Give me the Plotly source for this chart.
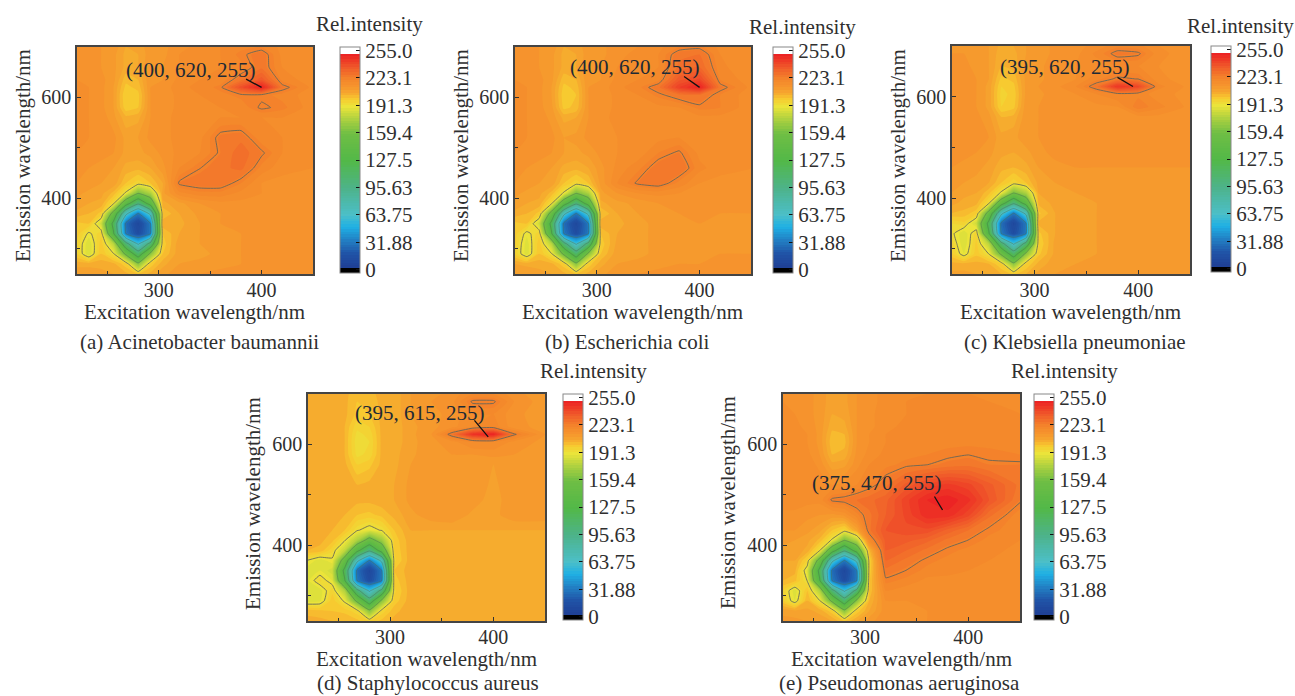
import plotly.graph_objects as go

FONT = "Liberation Serif"
TEXT = "#2f2f2f"
W, H = 1295, 696

excitation = [220, 232, 244, 256, 268, 280, 292, 304, 320, 340, 360, 380, 400, 420, 450]
emission = [250, 270, 290, 310, 330, 350, 370, 390, 410, 430, 460, 490, 520, 560, 580, 605, 620, 635, 660, 685, 700]

intensity_a = [
    [208,208,207,206,204,200,204,208,211,212,213,213,213,213,213],
    [205,205,205,204,198,165,198,205,209,210,211,212,213,213,213],
    [197,185,200,192,155,110,165,200,208,208,210,212,213,213,213],
    [197,185,199,178,105, 60,105,198,208,209,211,212,213,213,213],
    [199,190,196,130, 32, 14, 32,200,206,209,211,212,213,213,213],
    [199,200,183,120, 28, 10, 32,205,205,209,212,213,213,213,213],
    [205,203,199,150, 70, 32, 70,200,206,210,212,213,214,213,213],
    [208,206,205,193,140,100,140,205,208,212,214,214,214,214,214],
    [210,208,207,202,190,160,175,208,217,220,220,217,215,214,214],
    [212,211,209,208,200,195,200,206,224,226,226,221,215,214,214],
    [213,212,211,209,205,204,206,211,218,223,226,228,220,216,215],
    [215,214,213,212,208,208,210,213,216,218,224,229,224,218,216],
    [216,215,214,213,208,209,213,214,216,217,225,226,219,218,216],
    [216,215,214,210,204,205,212,214,216,217,218,218,218,218,216],
    [216,215,213,209,198,200,212,213,216,217,218,219,224,222,216],
    [216,215,213,209,197,199,212,213,216,218,220,222,222,220,216],
    [216,215,213,209,199,201,212,213,217,219,222,238,250,225,217],
    [215,215,213,210,201,203,212,212,216,218,219,226,235,220,216],
    [214,214,212,210,205,206,212,212,215,217,218,220,226,218,215],
    [213,213,212,210,205,206,211,211,215,216,218,222,226,217,215],
    [213,213,212,211,206,207,211,211,214,216,218,220,221,217,215],
]

intensity_b = [
    [209,209,207,206,204,200,204,208,211,212,213,213,213,213,213],
    [206,205,205,204,198,165,198,205,209,210,211,212,212,213,213],
    [197,186,200,192,155,110,165,200,208,208,210,211,212,212,212],
    [198,186,199,178,105, 60,105,198,207,208,210,211,212,212,212],
    [199,189,196,130, 32, 14, 32,200,206,208,210,211,212,212,212],
    [199,200,183,120, 28, 10, 32,205,205,208,210,211,212,212,212],
    [205,203,199,150, 70, 32, 70,200,206,209,211,212,213,212,212],
    [208,206,205,193,140,100,140,205,208,210,212,213,213,213,213],
    [210,208,207,202,190,160,175,208,212,215,216,215,214,214,214],
    [212,211,209,208,200,195,200,210,218,224,226,220,215,214,214],
    [213,212,211,209,205,204,206,211,216,220,226,227,219,216,215],
    [215,214,213,212,209,208,210,213,215,216,221,224,217,216,215],
    [216,215,214,213,209,210,213,214,215,216,217,218,217,216,216],
    [216,215,214,211,205,206,212,214,216,216,217,217,217,217,216],
    [216,215,213,210,199,201,212,213,216,216,217,218,222,221,216],
    [216,215,213,209,198,200,212,213,216,218,222,226,227,221,216],
    [216,215,213,209,199,201,212,213,217,220,226,242,250,225,217],
    [215,215,213,210,201,203,212,212,216,218,220,235,240,221,216],
    [214,214,212,210,205,206,212,212,215,216,218,228,230,219,215],
    [213,213,212,210,205,206,211,211,214,216,218,226,227,218,215],
    [213,213,212,211,206,207,211,211,214,215,217,221,222,217,215],
]

intensity_c = [
    [207,207,206,205,203,199,203,207,209,210,211,211,211,211,211],
    [204,204,204,203,197,165,197,204,208,209,210,210,211,211,211],
    [198,188,199,191,155,110,165,199,207,208,209,210,210,210,210],
    [196,185,198,178,105, 60,105,197,207,208,209,210,210,210,210],
    [193,185,196,130, 32, 14, 32,199,206,208,209,210,210,210,210],
    [194,196,183,120, 28, 10, 32,204,206,208,209,210,210,210,210],
    [203,202,198,150, 70, 32, 70,199,206,208,209,210,210,210,210],
    [207,205,204,193,140,100,140,204,207,208,209,210,210,210,210],
    [209,207,206,201,190,160,175,206,208,209,210,210,210,210,210],
    [210,209,208,206,200,195,200,207,209,210,211,211,211,211,211],
    [212,211,210,208,204,203,205,209,211,212,212,212,212,212,212],
    [213,213,212,210,207,206,208,211,213,213,213,213,213,213,213],
    [214,214,213,212,207,208,211,212,213,214,214,214,214,214,214],
    [214,214,213,210,203,204,211,212,214,214,214,214,214,214,214],
    [214,214,212,208,197,199,211,212,214,214,214,215,223,219,214],
    [214,214,212,208,196,198,210,211,214,215,218,221,220,216,214],
    [214,214,212,208,197,199,210,212,214,218,226,245,240,219,214],
    [214,213,212,209,199,201,210,211,214,215,220,224,223,216,213],
    [213,213,211,209,203,204,210,211,214,215,216,218,218,215,213],
    [212,212,210,209,204,205,209,210,213,214,219,225,224,216,213],
    [212,212,210,209,205,206,209,210,213,214,216,220,219,215,213],
]

intensity_d = [
    [204,204,203,203,201,197,201,204,206,206,206,206,206,206,206],
    [202,201,200,199,195,165,195,202,205,205,205,205,205,205,205],
    [186,187,199,190,155,110,165,198,205,205,205,205,205,205,205],
    [185,186,196,176,105, 60,105,196,205,205,205,205,205,205,205],
    [187,195,188,130, 32, 14, 32,198,205,205,205,205,205,205,205],
    [186,188,183,120, 28, 10, 32,200,205,205,205,205,205,205,205],
    [191,186,190,148, 70, 32, 70,196,205,205,205,205,205,205,205],
    [203,202,195,180,135,100,140,197,205,205,205,205,205,205,205],
    [204,204,201,192,175,150,170,198,205,205,205,205,205,205,205],
    [205,205,203,200,192,188,192,200,206,206,206,206,206,206,206],
    [205,205,204,203,200,199,201,204,208,211,212,208,208,211,211],
    [206,206,205,205,204,204,205,206,210,212,212,211,207,212,212],
    [206,206,205,205,203,204,205,206,210,212,212,212,208,212,212],
    [206,206,205,204,197,199,204,205,209,212,212,212,209,212,212],
    [206,206,205,203,193,195,204,205,208,212,212,212,213,212,211],
    [206,206,204,203,192,194,204,204,208,211,214,218,218,214,211],
    [206,206,204,203,193,195,204,204,208,212,226,246,250,224,212],
    [206,206,204,203,195,197,204,204,208,211,214,218,220,213,211],
    [206,206,204,204,199,200,204,204,209,211,213,218,218,213,210],
    [205,205,204,204,200,201,204,204,209,212,214,224,224,215,210],
    [205,205,204,204,201,202,204,204,209,211,213,218,218,213,210],
]

intensity_e = [
    [210,210,209,208,206,200,206,211,214,215,215,216,216,216,216],
    [208,207,207,205,198,165,198,206,214,215,215,216,216,216,216],
    [198,188,203,192,155,110,165,203,215,215,216,216,216,216,216],
    [197,186,200,176,105, 60,105,200,218,216,216,216,216,216,216],
    [203,201,191,130, 32, 14, 32,199,222,220,217,217,216,216,216],
    [204,204,187,120, 28, 10, 32,197,226,223,220,219,218,217,216],
    [206,206,196,150, 70, 32, 70,196,230,226,222,220,219,218,217],
    [208,208,205,192,140,100,140,202,233,230,226,222,220,219,217],
    [210,209,207,202,190,160,178,218,234,234,231,226,223,220,218],
    [212,212,210,207,200,195,207,226,236,238,238,232,227,222,219],
    [214,214,213,212,211,213,220,226,233,240,247,247,240,228,219],
    [217,217,216,216,224,225,227,229,232,241,248,250,246,236,224],
    [218,218,218,217,215,216,218,221,226,234,240,243,240,234,226],
    [218,218,217,214,207,208,214,218,220,222,223,225,226,224,224],
    [218,218,216,212,203,204,213,216,219,220,221,222,223,222,221],
    [218,217,215,211,201,202,212,215,218,219,220,220,220,220,219],
    [217,217,215,211,202,203,212,215,218,219,220,220,220,219,218],
    [216,216,214,211,204,205,212,214,217,219,220,220,220,219,218],
    [216,215,213,211,206,207,212,214,217,218,220,220,220,219,218],
    [215,215,213,211,207,208,212,214,216,218,219,219,219,218,218],
    [215,215,213,211,207,208,212,214,216,217,218,218,218,218,217],
]

grids = [intensity_a, intensity_b, intensity_c, intensity_d, intensity_e]
captions = ["(a) Acinetobacter baumannii", "(b) Escherichia coli", "(c) Klebsiella pneumoniae",
            "(d) Staphylococcus aureus", "(e) Pseudomonas aeruginosa"]
peak_x = [400, 400, 395, 395, 375]
peak_y = [620, 620, 620, 615, 470]
peak_z = [255, 255, 255, 255, 255]
label_x = [331, 337, 329, 329, 312]
label_y = [655, 661, 659, 663, 523]
leader_dx = [-17, -17, -17, -15, -9]
leader_dy = [-9, -12, -10, -18, -15]

cbar_vals = [0, 31.88, 63.75, 95.63, 127.5, 159.4, 191.3, 223.1, 255.0]
cbar_text = ["0", "31.88", "63.75", "95.63", "127.5", "159.4", "191.3", "223.1", "255.0"]
x_ticks = [300, 400]
y_ticks = [400, 600]
x_minor = [250, 350]
y_minor = [300, 500]

# pixel layout of each panel
panels = [
    dict(l=77, r=313, t=47, b=274, cb=340, cap=(199, 342), rel=(369, 24), xt=(194, 312), yt=(23, 156)),
    dict(l=515, r=751, t=47, b=274, cb=773, cap=(627, 342), rel=(802, 27), xt=(632, 312), yt=(461, 156)),
    dict(l=952, r=1190, t=46, b=274, cb=1211, cap=(1075, 342), rel=(1240, 26), xt=(1070, 312), yt=(898, 156)),
    dict(l=308, r=545, t=394, b=621, cb=563, cap=(428, 683), rel=(593, 371), xt=(426, 659), yt=(253, 503)),
    dict(l=783, r=1020, t=394, b=621, cb=1034, cap=(899, 683), rel=(1064, 371), xt=(901, 659), yt=(728, 503)),
]

ZMIN, ZMAX = -4, 259
stops = [(-4, "#000000"), (1, "#000000"), (2, "#1f3f94"), (18, "#2052a6"), (32, "#2279bf"), (50, "#1fb0e4"),
         (64, "#4cbfc8"), (95, "#4db38a"), (127, "#52b848"), (159, "#6fbe44"), (178, "#b5d33f"), (191, "#ebe43a"),
         (200, "#f7ca30"), (207, "#f6a82e"), (214, "#f6952d"), (223, "#f4862b"), (235, "#f0602a"), (252.5, "#ec2024"),
         (253, "#ffffff"), (259, "#ffffff")]
colorscale = [[(v - ZMIN) / (ZMAX - ZMIN), c] for v, c in stops]


def note(px, py, text, size, angle=0):
    return dict(x=px / W, y=1 - py / H, xref="paper", yref="paper", xanchor="center", yanchor="middle",
                showarrow=False, text=text, textangle=angle, font=dict(family=FONT, size=size, color=TEXT))


fig = go.Figure()
layout = {}
notes = []
for i, (z, p) in enumerate(zip(grids, panels)):
    s = "" if i == 0 else str(i + 1)
    xa, ya = "x" + s, "y" + s
    fig.add_trace(go.Contour(
        x=excitation, y=emission, z=z, xaxis=xa, yaxis=ya, zmin=ZMIN, zmax=ZMAX,
        colorscale=colorscale, autocontour=False,
        contours=dict(start=ZMIN, end=ZMAX, size=3, coloring="fill", showlines=False),
        line=dict(width=0, smoothing=0.4),
        hoverinfo="skip",
        colorbar=dict(
            x=p["cb"] / W, xanchor="left", xpad=0, ypad=0, y=1 - p["t"] / H, yanchor="top",
            len=226 / H, lenmode="fraction", thickness=20, thicknessmode="pixels",
            tickmode="array", tickvals=cbar_vals, ticktext=cbar_text, ticks="inside", ticklen=4,
            tickcolor="#111111", outlinecolor="#888888", outlinewidth=1, borderwidth=0,
            tickfont=dict(family=FONT, size=21, color=TEXT),
        ),
    ))
    fig.add_trace(go.Contour(
        x=excitation, y=emission, z=z, xaxis=xa, yaxis=ya, showscale=False, autocontour=False,
        contours=dict(start=31.875, end=159.375, size=31.875, coloring="none"),
        line=dict(color="rgba(70,110,80,0.45)", width=1, smoothing=0.4),
        hoverinfo="skip",
    ))
    fig.add_trace(go.Contour(
        x=excitation, y=emission, z=z, xaxis=xa, yaxis=ya, showscale=False, autocontour=False,
        contours=dict(start=191.25, end=223.125, size=31.875, coloring="none"),
        line=dict(color="rgba(95,100,90,0.85)", width=1, smoothing=0.4),
        hoverinfo="skip",
    ))
    axis_style = dict(
        ticks="inside", ticklen=4, tickcolor="#333333", showgrid=False, zeroline=False, mirror=True,
        showline=True, linecolor="#444444", linewidth=1.5, tickmode="array",
        tickfont=dict(family=FONT, size=20, color=TEXT),
    )
    layout["xaxis" + s] = dict(
        domain=[p["l"] / W, p["r"] / W], range=[220.5, 450], anchor=ya, tickvals=x_ticks,
        ticklabelstandoff=-3,
        minor=dict(tickmode="array", tickvals=x_minor, ticks="inside", ticklen=3, tickcolor="#333333"),
        **axis_style,
    )
    layout["yaxis" + s] = dict(
        domain=[1 - p["b"] / H, 1 - p["t"] / H], range=[250, 700], anchor=xa, tickvals=y_ticks,
        minor=dict(tickmode="array", tickvals=y_minor, ticks="inside", ticklen=3, tickcolor="#333333"),
        **axis_style,
    )
    notes.append(dict(x=peak_x[i], y=peak_y[i], xref=xa, yref=ya, text="", showarrow=True, arrowhead=0,
                      arrowwidth=1.3, arrowcolor="#111111", ax=leader_dx[i], ay=leader_dy[i]))
    notes.append(dict(x=label_x[i], y=label_y[i], xref=xa, yref=ya, showarrow=False,
                      xanchor="center", yanchor="middle",
                      text=f"({peak_x[i]}, {peak_y[i]}, {peak_z[i]})",
                      font=dict(family=FONT, size=21, color="#1e2a35")))
    notes.append(note(*p["cap"], captions[i], 21))
    notes.append(note(*p["rel"], "Rel.intensity", 21))
    notes.append(note(*p["xt"], "Excitation wavelength/nm", 21))
    notes.append(note(*p["yt"], "Emission wavelength/nm", 21, angle=-90))

fig.update_layout(
    width=W, height=H, autosize=False, margin=dict(l=0, r=0, t=0, b=0),
    paper_bgcolor="white", plot_bgcolor="white", showlegend=False, annotations=notes, **layout,
)
fig.write_html("out.html", config=dict(displayModeBar=False),
               post_script="document.body.style.margin='0';document.body.style.overflow='hidden';")
